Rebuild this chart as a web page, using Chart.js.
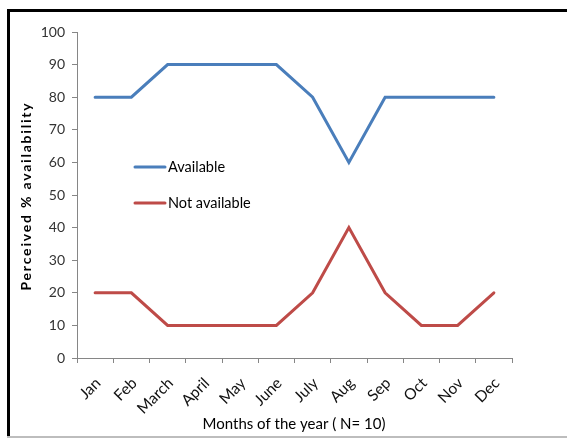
<!DOCTYPE html>
<html>
<head>
<meta charset="utf-8">
<style>
  html, body { margin: 0; padding: 0; background: #fff; }
  #wrap { position: relative; width: 567px; height: 439px; }
</style>
<script src="https://cdn.jsdelivr.net/npm/chart.js@4/dist/chart.umd.min.js"></script>
</head>
<body>
<div id="wrap"><canvas id="c" width="567" height="439"></canvas></div>
<script>
const months = ['Jan', 'Feb', 'March', 'April', 'May', 'June', 'July', 'Aug', 'Sep', 'Oct', 'Nov', 'Dec'];
const available = [80, 80, 90, 90, 90, 90, 80, 60, 80, 80, 80, 80];
const notAvailable = [20, 20, 10, 10, 10, 10, 20, 40, 20, 10, 10, 20];
const yTicks = [0, 10, 20, 30, 40, 50, 60, 70, 80, 90, 100];

const FONT = 'Lato, "Open Sans", sans-serif';

// Frame, axis titles and the in-plot legend
const decor = {
  id: 'decor',
  beforeDraw(chart) {
    const ctx = chart.ctx;
    ctx.save();
    ctx.fillStyle = '#fff';
    ctx.fillRect(0, 0, chart.width, chart.height);
    ctx.fillStyle = '#000';
    ctx.fillRect(7, 9, 560, 3);
    ctx.fillRect(7, 9, 3, 429);
    ctx.fillStyle = '#bdbdbd';
    ctx.fillRect(7, 436, 560, 2);
    ctx.restore();
  },
  afterDraw(chart) {
    const ctx = chart.ctx;
    ctx.save();
    // x title
    ctx.fillStyle = '#000';
    ctx.font = '15px ' + FONT;
    ctx.textAlign = 'center';
    ctx.textBaseline = 'middle';
    ctx.fillText('Months of the year ( N= 10)', 294, 424);
    // y title
    ctx.translate(26, 196);
    ctx.rotate(-Math.PI / 2);
    ctx.font = 'bold 14px ' + FONT;
    ctx.letterSpacing = '1.8px';
    ctx.fillText('Perceived % availability', 0, 0);
    ctx.restore();

    // legend
    ctx.save();
    const items = chart.data.datasets;
    const rows = [167, 203];
    items.forEach((ds, i) => {
      const y = rows[i];
      ctx.strokeStyle = ds.borderColor;
      ctx.lineWidth = 3;
      ctx.lineCap = 'round';
      ctx.beginPath();
      ctx.moveTo(135, y);
      ctx.lineTo(165, y);
      ctx.stroke();
      ctx.fillStyle = '#000';
      ctx.font = '14.5px ' + FONT;
      ctx.textAlign = 'left';
      ctx.textBaseline = 'middle';
      ctx.fillText(ds.label, 168, y);
    });
    ctx.restore();
  }
};

new Chart(document.getElementById('c'), {
  type: 'line',
  data: {
    labels: months,
    datasets: [
      { label: 'Available', data: available, borderColor: '#4A7EBB', backgroundColor: '#4A7EBB' },
      { label: 'Not available', data: notAvailable, borderColor: '#BE4B48', backgroundColor: '#BE4B48' }
    ]
  },
  options: {
    responsive: false,
    animation: false,
    devicePixelRatio: 1,
    layout: { padding: { left: 0, right: 55, top: 32, bottom: 0 } },
    elements: {
      line: { borderWidth: 3, tension: 0, borderCapStyle: 'round', borderJoinStyle: 'miter' },
      point: { radius: 0, hoverRadius: 0 }
    },
    plugins: { legend: { display: false }, tooltip: { enabled: false } },
    scales: {
      x: {
        type: 'category',
        offset: true,
        afterFit(s) { s.height = 81; },
        grid: { display: true, drawOnChartArea: false, drawTicks: true, tickLength: 5, color: '#868686', offset: true },
        border: { display: true, color: '#868686', width: 1 },
        ticks: { font: { family: FONT, size: 15.5 }, color: '#111', minRotation: 45, maxRotation: 45, padding: 11, labelOffset: 3, autoSkip: false }
      },
      y: {
        min: 0,
        max: 100,
        afterFit(s) { s.width = 77; },
        afterBuildTicks(s) { s.ticks = yTicks.map(v => ({ value: v })); },
        grid: { display: true, drawOnChartArea: false, drawTicks: true, tickLength: 5, color: '#868686' },
        border: { display: true, color: '#868686', width: 1 },
        ticks: { font: { family: FONT, size: 14 }, color: '#333', padding: 7 }
      }
    }
  },
  plugins: [decor]
});
</script>
</body>
</html>
